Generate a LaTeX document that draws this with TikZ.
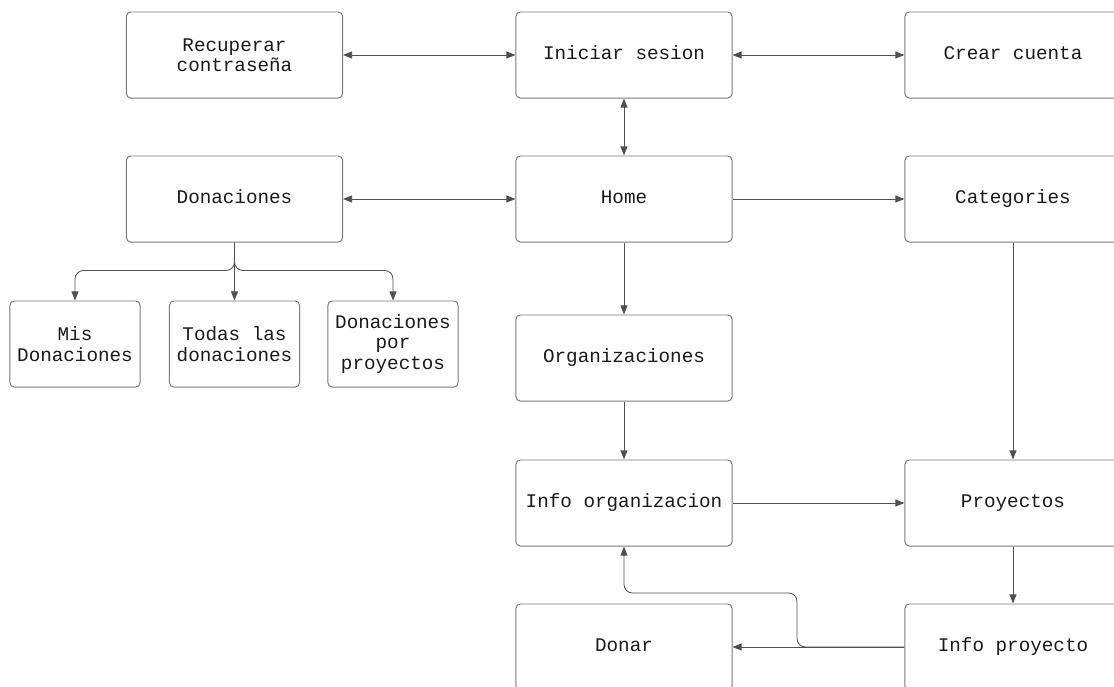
\documentclass[tikz,border=0pt]{standalone}
\usepackage{fontspec}
\setmonofont{Liberation Mono}
\usetikzlibrary{arrows.meta}
\definecolor{boxline}{HTML}{7A7A7A}
\definecolor{arrowline}{HTML}{505050}
\definecolor{boxtext}{HTML}{1A1A1A}
\begin{document}
\begin{tikzpicture}[x=0.025cm,y=-0.025cm]
\tikzstyle{every node}+=[font=\ttfamily\fontsize{13.7}{14.5}\selectfont,text=boxtext,align=center]
\tikzstyle{page}=[draw=boxline,line width=0.7pt,rounded corners=3pt,minimum width=5.4cm,minimum height=2.15cm]
\tikzstyle{one}=[page,text height=0.8em,text depth=0.1em]
\tikzstyle{small}=[page,minimum width=3.25cm]
\tikzstyle{link}=[draw=arrowline,line width=0.6pt,-{Triangle[length=6.5pt,width=5pt]}]
\tikzstyle{both}=[link,{Triangle[length=6.5pt,width=5pt]}-{Triangle[length=6.5pt,width=5pt]}]
\clip (0,0) rectangle (1114,686);
\fill[white] (0,0) rectangle (1114,686);

\node[page] (rec) at (234.5,55) {Recuperar\\contraseña};
\node[one] (ini) at (624,55) {Iniciar sesion};
\node[one] (crear) at (1013,55) {Crear cuenta};
\node[one] (don) at (234.5,199) {Donaciones};
\node[one] (home) at (624,199) {Home};
\node[one] (cat) at (1013,199) {Categories};
\node[small] (mis) at (75,344) {Mis\\Donaciones};
\node[small] (todas) at (234.5,344) {Todas las\\donaciones};
\node[small] (porp) at (393,344) {Donaciones\\por\\proyectos};
\node[one] (org) at (624,358) {Organizaciones};
\node[one] (iorg) at (624,503) {Info organizacion};
\node[one] (proy) at (1013,503) {Proyectos};
\node[one] (donar) at (624,647) {Donar};
\node[one] (iproy) at (1013,647) {Info proyecto};
\coordinate (bend) at (797,593);

\draw[both] (rec) -- (ini);
\draw[both] (ini) -- (crear);
\draw[both] (ini) -- (home);
\draw[both] (don) -- (home);
\draw[link] (home) -- (cat);
\draw[link] (don.south) -- (todas.north);
\draw[link,rounded corners=6pt] (don.south) -- ++(0,28) -| (mis.north);
\draw[link,rounded corners=6pt] (don.south) -- ++(0,28) -| (porp.north);
\draw[link] (home) -- (org);
\draw[link] (org) -- (iorg);
\draw[link] (cat) -- (proy);
\draw[link] (iorg) -- (proy);
\draw[link] (proy) -- (iproy);
\draw[link] (iproy) -- (donar);
\draw[link,rounded corners=6pt] (iproy.west) -| (bend) -| (iorg.south);
\end{tikzpicture}
\end{document}
